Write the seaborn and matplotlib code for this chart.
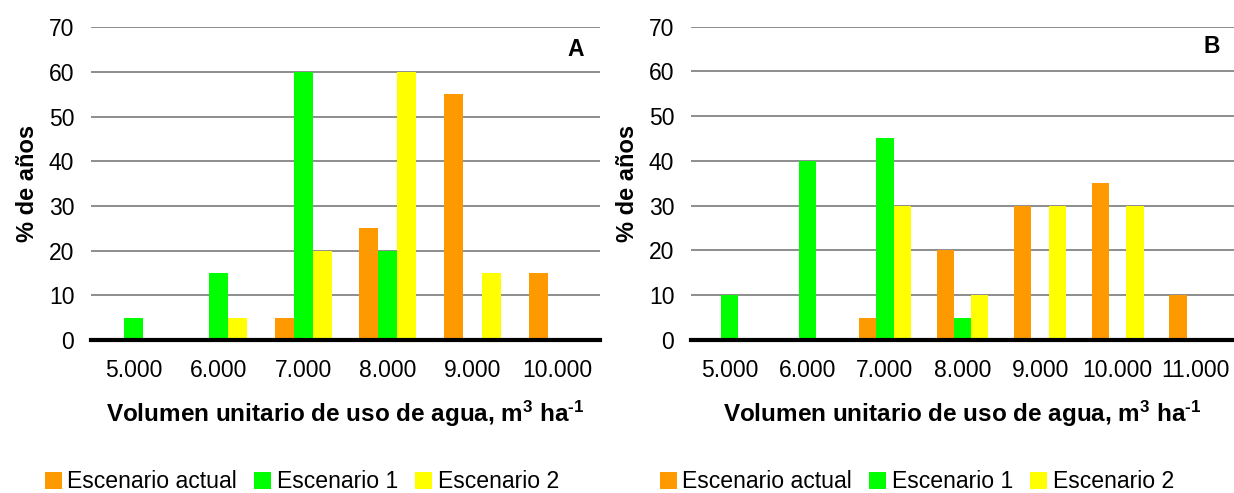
import matplotlib
matplotlib.use("Agg")
import matplotlib.pyplot as plt
from matplotlib.patches import Patch
import seaborn as sns
import pandas as pd

# ---- data ----
series_names = ["Escenario actual", "Escenario 1", "Escenario 2"]
colors = ["#FF9900", "#00FF00", "#FFFF00"]

cats_a = ["5.000", "6.000", "7.000", "8.000", "9.000", "10.000"]
actual_a = [0, 0, 5, 25, 55, 15]
esc1_a = [5, 15, 60, 20, 0, 0]
esc2_a = [0, 5, 20, 60, 15, 0]

cats_b = ["5.000", "6.000", "7.000", "8.000", "9.000", "10.000", "11.000"]
actual_b = [0, 0, 5, 20, 30, 35, 10]
esc1_b = [10, 40, 45, 5, 0, 0, 0]
esc2_b = [0, 0, 30, 10, 30, 30, 0]

yticks = [0, 10, 20, 30, 40, 50, 60, 70]
ylabel = "% de años"
xlabel = r"Volumen unitario de uso de agua, m$^{\text{3}}$ ha$^{\text{-1}}$"


def long_df(cats, a, e1, e2):
    rows = []
    for name, vals in zip(series_names, [a, e1, e2]):
        for c, v in zip(cats, vals):
            rows.append({"cat": c, "val": v, "serie": name})
    return pd.DataFrame(rows)


sns.set_style("white")
plt.rcParams["font.family"] = ["Liberation Sans", "DejaVu Sans"]
plt.rcParams["mathtext.fontset"] = "custom"
plt.rcParams["mathtext.rm"] = "Liberation Sans:bold"
plt.rcParams["mathtext.it"] = "Liberation Sans:bold"
plt.rcParams["mathtext.bf"] = "Liberation Sans:bold"
plt.rcParams["text.color"] = "black"
plt.rcParams["axes.labelcolor"] = "black"
plt.rcParams["xtick.color"] = "black"
plt.rcParams["ytick.color"] = "black"

W, H = 1234, 493
fig = plt.figure(figsize=(W / 100, H / 100), dpi=100)


def px_axes(l, r, t, b):
    return fig.add_axes([l / W, (H - b) / H, (r - l) / W, (b - t) / H])


def draw(ax, cats, a, e1, e2, label, lx, ly):
    df = long_df(cats, a, e1, e2)
    sns.barplot(data=df, x="cat", y="val", hue="serie", hue_order=series_names,
                order=cats, palette=colors, width=0.67, saturation=1,
                legend=False, ax=ax, linewidth=0)
    ax.set_ylim(0, 70)
    ax.set_xlim(-0.5, len(cats) - 0.5)
    ax.set_yticks(yticks)
    ax.yaxis.grid(True, color="#6f6f6f", linewidth=1.1)
    ax.set_axisbelow(True)
    for s in ["top", "left", "right"]:
        ax.spines[s].set_visible(False)
    ax.spines["bottom"].set_color("black")
    ax.spines["bottom"].set_linewidth(3)
    ax.spines["bottom"].set_zorder(5)
    ax.tick_params(axis="both", length=0, labelsize=16.5, colors="black")
    ax.tick_params(axis="y", pad=12)
    ax.tick_params(axis="x", pad=14)
    ax.set_xlabel(xlabel, fontsize=17.5, fontweight="bold", labelpad=12, color="black")
    ax.set_ylabel(ylabel, fontsize=17, fontweight="bold", labelpad=7, color="black")
    ax.text(lx, ly, label, transform=ax.transAxes, fontsize=16.5,
            fontweight="bold", ha="center", va="center", color="black")


ax_a = px_axes(91, 600, 27.5, 340)
draw(ax_a, cats_a, actual_a, esc1_a, esc2_a, "A", 0.953, 0.928)

ax_b = px_axes(691, 1234, 26.5, 340)
draw(ax_b, cats_b, actual_b, esc1_b, esc2_b, "B", 0.959, 0.935)

handles = [Patch(facecolor=c, edgecolor="none", label=n) for c, n in zip(colors, series_names)]
for x0 in [45, 660]:
    fig.legend(handles=handles, loc="center left", bbox_to_anchor=(x0 / W, (H - 482) / H),
               ncol=3, frameon=False, fontsize=16.6, handlelength=0.72, handleheight=0.72,
               handletextpad=0.25, columnspacing=0.75, borderaxespad=0, borderpad=0,
               labelcolor="black")

fig.savefig("out.png", dpi=100)
